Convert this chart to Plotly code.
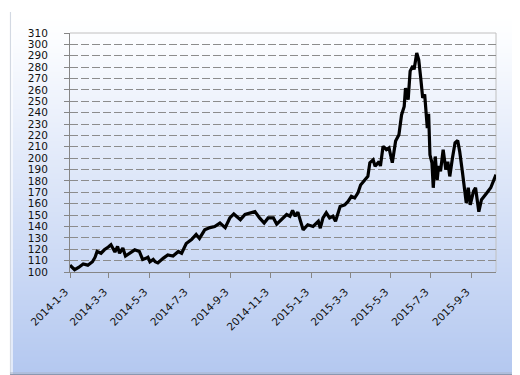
import plotly.graph_objects as go

dates = [
    "2014-01-03", "2014-01-10", "2014-01-16", "2014-01-23", "2014-01-30", "2014-02-06",
    "2014-02-10", "2014-02-13", "2014-02-19", "2014-02-24", "2014-03-02", "2014-03-06",
    "2014-03-12", "2014-03-16", "2014-03-19", "2014-03-24", "2014-03-28", "2014-04-03",
    "2014-04-11", "2014-04-18", "2014-04-23", "2014-04-28", "2014-05-01", "2014-05-04",
    "2014-05-06", "2014-05-09", "2014-05-12", "2014-05-16", "2014-05-24", "2014-05-31",
    "2014-06-08", "2014-06-16", "2014-06-21", "2014-06-28", "2014-07-06", "2014-07-13",
    "2014-07-18", "2014-07-26", "2014-08-03", "2014-08-10", "2014-08-18", "2014-08-26",
    "2014-09-02", "2014-09-08", "2014-09-15", "2014-09-18", "2014-09-25", "2014-10-02",
    "2014-10-10", "2014-10-17", "2014-10-24", "2014-10-30", "2014-11-07", "2014-11-12",
    "2014-11-19", "2014-11-27", "2014-12-02", "2014-12-06", "2014-12-10", "2014-12-14",
    "2014-12-22", "2014-12-29", "2015-01-06", "2015-01-14", "2015-01-17", "2015-01-21",
    "2015-01-26", "2015-01-31", "2015-02-05", "2015-02-09", "2015-02-16", "2015-02-23",
    "2015-02-28", "2015-03-05", "2015-03-10", "2015-03-15", "2015-03-19", "2015-03-25",
    "2015-03-30", "2015-04-02", "2015-04-07", "2015-04-10", "2015-04-16", "2015-04-18",
    "2015-04-22", "2015-04-27", "2015-05-01", "2015-05-06", "2015-05-11", "2015-05-16",
    "2015-05-20", "2015-05-24", "2015-05-26", "2015-05-30", "2015-06-02", "2015-06-06",
    "2015-06-08", "2015-06-12", "2015-06-15", "2015-06-18", "2015-06-21", "2015-06-24",
    "2015-06-26", "2015-06-28", "2015-06-30", "2015-07-02", "2015-07-05", "2015-07-07",
    "2015-07-10", "2015-07-13", "2015-07-15", "2015-07-18", "2015-07-22", "2015-07-26",
    "2015-07-29", "2015-08-01", "2015-08-05", "2015-08-09", "2015-08-13", "2015-08-16",
    "2015-08-20", "2015-08-26", "2015-08-29", "2015-09-01", "2015-09-06", "2015-09-09",
    "2015-09-14", "2015-09-18", "2015-09-26", "2015-10-02", "2015-10-10",
]

values = [
    106, 102, 104, 107, 106, 109,
    113, 118, 116.5, 119.5, 122, 124,
    117.5, 122.5, 116.5, 121, 114, 116.5,
    119.5, 118, 111, 112, 113, 109,
    110, 111, 109, 108, 112, 115,
    114, 118, 116.5, 125, 128.5, 133,
    129.5, 137, 139, 140, 143, 139,
    147.5, 151, 147.5, 146, 150.5, 152,
    153, 147.5, 143, 147.5, 147.5, 142,
    146, 150.5, 149, 154, 149, 152.5,
    137, 141.5, 140, 144.5, 138.5, 147.5,
    152, 147.5, 149, 144.5, 157.5, 159,
    162, 166.5, 165, 169.5, 176.5, 181,
    184, 196, 198.5, 193, 197, 193,
    210.5, 207.5, 209, 196, 215, 220.5,
    238, 245.5, 261.5, 251.5, 276.5, 281,
    278, 292.5, 286.5, 270.5, 253, 256,
    238, 226.5, 239, 203, 196, 174,
    201.5, 181, 193, 188.5, 207.5, 190,
    197, 184, 200, 213.5, 215.5, 206,
    188.5, 160.5, 174, 159, 171, 174,
    153, 163.5, 169.5, 174, 185.5,
]

tick_dates = ["2014-01-03", "2014-03-03", "2014-05-03", "2014-07-03", "2014-09-03",
              "2014-11-03", "2015-01-03", "2015-03-03", "2015-05-03", "2015-07-03",
              "2015-09-03"]
tick_labels = ["2014-1-3", "2014-3-3", "2014-5-3", "2014-7-3", "2014-9-3",
               "2014-11-3", "2015-1-3", "2015-3-3", "2015-5-3", "2015-7-3",
               "2015-9-3"]
y_ticks = list(range(100, 311, 10))
y_grid = list(range(110, 301, 10))

W, H = 520, 375
PL, PR, PT, PB = 62, 488, 25, 264   # plot-area edges in pixels

fig = go.Figure()

# ---- background layer (pixel coordinates on hidden axes x/y) ----
n_rows = 64
fy0, fy1 = 4, 367
row_edges = [fy0 + (fy1 - fy0) * i / n_rows for i in range(n_rows + 1)]
grad_z = [[i / (n_rows - 1)] for i in range(n_rows)]
fig.add_trace(go.Heatmap(
    x=[2, 511], y=row_edges, z=grad_z, xaxis="x", yaxis="y",
    colorscale=[[0, "#ffffff"], [0.06, "#fcfdff"], [1, "#b4c8f0"]],
    showscale=False, hoverinfo="skip", zsmooth="best"))


def bg_line(xs, ys, color, width):
    fig.add_trace(go.Scatter(x=xs, y=ys, mode="lines", xaxis="x", yaxis="y",
                             line=dict(color=color, width=width),
                             showlegend=False, hoverinfo="skip"))


# frame edges / shadow
bg_line([2.5, 2.5], [4, 367], "#d3d9e3", 1.2)
bg_line([4, 4], [4, 366], "#ffffff", 1.2)
bg_line([512, 512], [8, 368], "#a3aec2", 2)
bg_line([514, 514], [10, 369], "#cdd2db", 2)
bg_line([516, 516], [12, 370], "#e9ebef", 2)
bg_line([2, 511], [365, 365], "#a9b4c8", 1.2)
bg_line([2, 513], [367.3, 367.3], "#7d889c", 2.2)
bg_line([3, 515], [369.5, 369.5], "#c3c9d3", 2)
# plot-area top/right border (light gray)
bg_line([PL, PR, PR], [PT, PT, PB], "#c0c0c0", 1)

# ---- data layer ----
fig.add_trace(go.Scatter(x=dates, y=values, mode="lines", xaxis="x2", yaxis="y2",
                         line=dict(color="#000000", width=3.2), showlegend=False,
                         hoverinfo="skip"))

font = dict(family="DejaVu Sans", size=10.5, color="#111111")
pad = "\u00a0\u00a0"  # invisible trailing padding to nudge rotated labels along their baseline

fig.update_layout(
    width=W, height=H,
    margin=dict(l=0, r=0, t=0, b=0, pad=0, autoexpand=False),
    paper_bgcolor="#ffffff",
    plot_bgcolor="rgba(0,0,0,0)",
    font=font,
    showlegend=False,
    xaxis=dict(domain=[0, 1], range=[0, W], visible=False, fixedrange=True,
               automargin=False),
    yaxis=dict(domain=[0, 1], range=[H, 0], visible=False, fixedrange=True,
               automargin=False),
    xaxis2=dict(
        domain=[PL / W, PR / W], anchor="y2", automargin=False,
        type="date",
        range=["2014-01-03", "2015-10-10"],
        tickvals=tick_dates, ticktext=[t + pad for t in tick_labels],
        tickangle=-45,
        ticks="outside", ticklen=5, tickcolor="#868686",
        showline=True, linecolor="#868686", linewidth=1,
        showgrid=False, zeroline=False,
        tickfont=font,
        ticklabelstandoff=-1,
    ),
    yaxis2=dict(
        domain=[(H - PB) / H, (H - PT) / H], anchor="x2", automargin=False,
        range=[100, 310],
        tickvals=y_ticks,
        ticks="outside", ticklen=5, tickcolor="#868686",
        showline=True, linecolor="#868686", linewidth=1,
        showgrid=False, zeroline=False,
        minor=dict(tickvals=y_grid, showgrid=True, gridcolor="#8c8c8c",
                   gridwidth=1, griddash="8px,3px", ticks=""),
        tickfont=font,
        ticklabelstandoff=14,
    ),
)

fig.write_html("out.html")
